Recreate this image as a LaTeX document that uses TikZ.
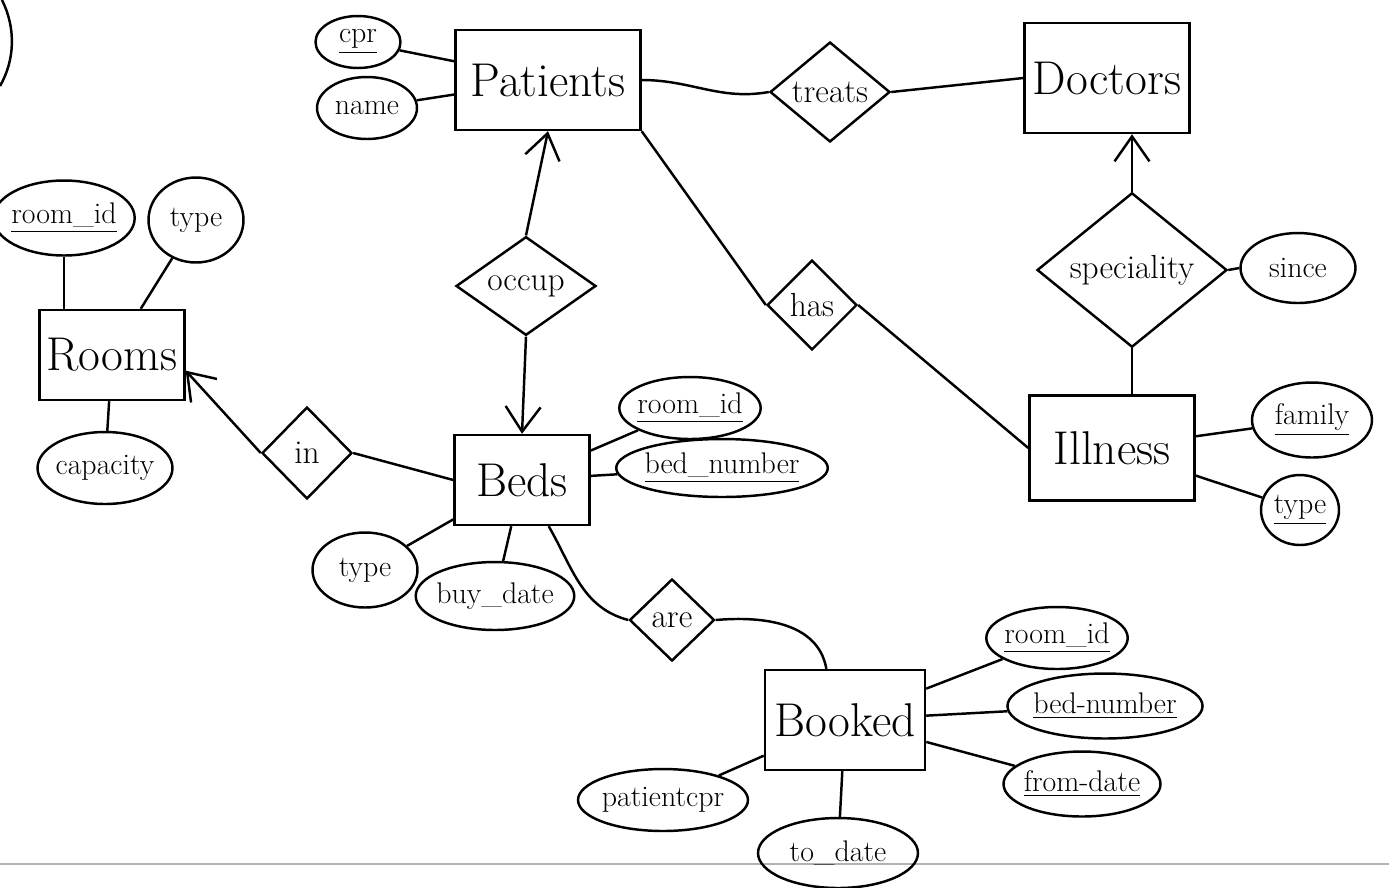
\documentclass[tikz,border=0pt]{standalone}
\usepackage{fontspec}
\usepackage{amsmath, amssymb}
\usetikzlibrary{shapes.geometric, arrows.meta}

\begin{document}
\begin{tikzpicture}[x=0.02cm, y=-0.02cm, line width=1.4pt,
  ent/.style={draw, rectangle, font=\fontsize{27}{30}\selectfont, inner sep=0pt},
  rel/.style={draw, diamond, font=\fontsize{19}{22}\selectfont, inner sep=0pt},
  att/.style={draw, ellipse, font=\fontsize{17}{20}\selectfont, inner sep=-1.5pt},
  ar/.style={-{Straight Barb[length=5mm,width=7mm]}}]
\path[fill=white, use as bounding box] (0,0) rectangle (1389,887);
\draw (2,0) .. controls (16,28) and (15,60) .. (0,86);
\draw[gray!60, line width=.8pt] (0,864) -- (1389,864);
% entities
\node[ent, minimum width=3.7cm, minimum height=2cm] (pat) at (548,80) {Patients};
\node[ent, minimum width=3.3cm, minimum height=2.2cm] (doc) at (1107,78) {Doctors};
\node[ent, minimum width=3.3cm, minimum height=2.1cm] (ill) at (1112,448) {Illness};
\node[ent, minimum width=2.7cm, minimum height=1.8cm] (beds) at (522,480) {Beds};
\node[ent, minimum width=2.9cm, minimum height=1.8cm] (rooms) at (112,355) {Rooms};
\node[ent, minimum width=3.2cm, minimum height=2cm] (bkd) at (845,720) {Booked};
% relationships
\node[rel, minimum width=2.4cm, minimum height=2cm] (tr) at (830,92) {treats};
\node[rel, minimum width=3.8cm, minimum height=1.86cm] (sp) at (1132,270) {speciality};
\node[rel, minimum width=1.8cm, minimum height=1.8cm] (has) at (812,305) {has};
\node[rel, minimum width=2.8cm, minimum height=1.8cm] (occ) at (526,286) {occup};
\node[rel, minimum width=1.8cm, minimum height=1.84cm] (in) at (307,453) {in};
\node[rel, minimum width=1.7cm, minimum height=1.64cm] (are) at (672,620) {are};
% attributes
\node[att, minimum width=1.7cm, minimum height=1.04cm] (cpr) at (358,42) {\underline{cpr}};
\node[att, minimum width=2cm, minimum height=1.24cm] (name) at (367,108) {name};
\node[att, minimum width=2.3cm, minimum height=1.5cm] (rid1) at (64,218) {\underline{room\_id}};
\node[att, minimum width=1.9cm, minimum height=1.7cm] (rtype) at (196,220) {type};
\node[att, minimum width=2.7cm, minimum height=1.44cm] (cap) at (105,468) {capacity};
\node[att, minimum width=2.3cm, minimum height=1.4cm] (since) at (1298,268) {since};
\node[att, minimum width=2.4cm, minimum height=1.5cm] (fam) at (1312,420) {\underline{family}};
\node[att, minimum width=1.56cm, minimum height=1.4cm] (itype) at (1300,510) {\underline{type}};
\node[att, minimum width=2.5cm, minimum height=1.24cm] (rid2) at (690,408) {\underline{room\_id}};
\node[att, minimum width=3.6cm, minimum height=1.16cm] (bnum) at (722,468) {\underline{bed\_number}};
\node[att, minimum width=2.1cm, minimum height=1.5cm] (btype) at (365,570) {type};
\node[att, minimum width=2.6cm, minimum height=1.36cm] (buy) at (495,596) {buy\_date};
\node[att, minimum width=2.7cm, minimum height=1.24cm] (rid3) at (1057,638) {\underline{room\_id}};
\node[att, minimum width=2.9cm, minimum height=1.3cm] (bnum2) at (1105,706) {\underline{bed-number}};
\node[att, minimum width=2.6cm, minimum height=1.3cm] (from) at (1082,784) {\underline{from-date}};
\node[att, minimum width=3.4cm, minimum height=1.24cm] (pcpr) at (663,800) {patientcpr};
\node[att, minimum width=3.2cm, minimum height=1.4cm] (to) at (838,853) {to\_date};
% connectors
\draw (pat.east) to[out=0,in=190] (tr.west);
\draw (tr.east) -- (doc.west);
\draw[ar] (occ.north) -- (pat.south);
\draw[ar] (occ.south) -- (beds.north);
\draw (pat.south east) -- (has.west);
\draw (has.east) -- (ill.west);
\draw[ar] (sp.north) -- (sp.north |- doc.south);
\draw (sp.south) -- (sp.south |- ill.north);
\draw (sp.east) -- (since.west);
\draw[ar] (in.west) -- (rooms.-12);
\draw (in.east) -- (beds.west);
\draw (beds.-60) to[out=-60,in=165] (are.west);
\draw (are.east) to[out=5,in=100] (bkd.110);
\draw (rid1.south) -- (rid1.south |- rooms.north);
\foreach \e/\a in {pat/cpr, pat/name, rooms/rtype, rooms/cap, beds/rid2, beds/bnum, beds/btype, beds/buy, ill/fam, ill/itype, bkd/rid3, bkd/bnum2, bkd/from, bkd/pcpr, bkd/to}
  \draw (\e) -- (\a);
\end{tikzpicture}
\end{document}
